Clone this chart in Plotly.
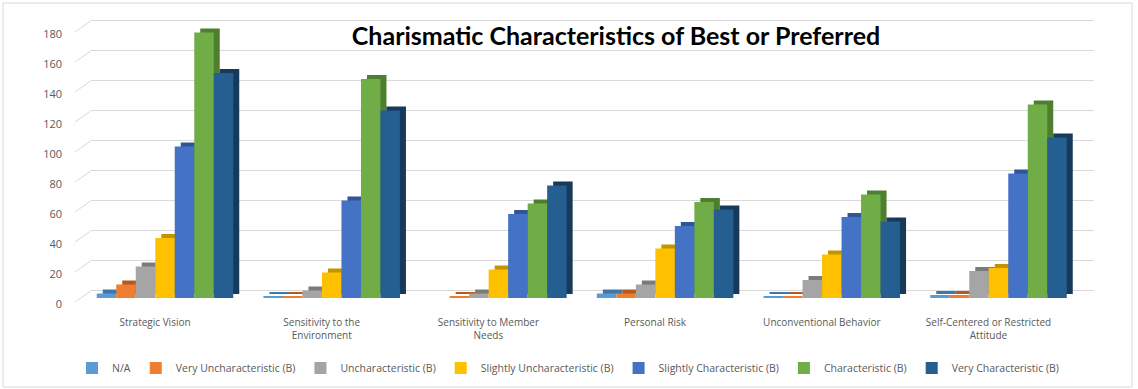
import plotly.graph_objects as go

categories = ["Strategic Vision", "Sensitivity to the<br>Environment", "Sensitivity to Member<br>Needs",
              "Personal Risk", "Unconventional Behavior", "Self-Centered or Restricted<br>Attitude"]
series_names = ["N/A", "Very Uncharacteristic (B)", "Uncharacteristic (B)", "Slightly Uncharacteristic (B)",
                "Slightly Characteristic (B)", "Characteristic (B)", "Very Characteristic (B)"]
na = [3, 1, 0, 3, 1, 2]
very_unchar = [9, 1, 1, 3, 1, 2]
unchar = [21, 5, 3, 9, 12, 18]
slightly_unchar = [40, 17, 19, 33, 29, 20]
slightly_char = [101, 65, 56, 48, 54, 83]
char = [177, 146, 63, 64, 69, 129]
very_char = [150, 125, 75, 59, 51, 107]
series_values = [na, very_unchar, unchar, slightly_unchar, slightly_char, char, very_char]
y_ticks = [0, 20, 40, 60, 80, 100, 120, 140, 160, 180]

front_colors = ["#5B9BD5", "#ED7D31", "#A5A5A5", "#FFC000", "#4472C4", "#70AD47", "#255E91"]
side_colors = ["#3F77AD", "#B45A1E", "#7B7B7B", "#C49400", "#2F5597", "#4E7F30", "#17395A"]

W, H = 1138, 389
ml, mr, mt, mb = 92, 44, 15, 91
plot_w = W - ml - mr
plot_h = H - mt - mb
px_per_unit = 1.5
yr_top = plot_h / px_per_unit
back_shift = 8 / px_per_unit

cat_px = 166.7
x_lo = -73 / cat_px
x_hi = x_lo + plot_w / cat_px

bw = 0.117
dx = 6 / cat_px
dy = 4 / px_per_unit
n = len(series_values)

fig = go.Figure()
# depth (side/top) faces
for i, vals in enumerate(series_values):
    off = -n * bw / 2 + i * bw
    fig.add_trace(go.Bar(x=categories, y=vals, base=dy, width=bw, offset=off + dx,
                         marker=dict(color=side_colors[i], line=dict(width=0)),
                         showlegend=False, hoverinfo="skip"))
# front faces
for i, vals in enumerate(series_values):
    off = -n * bw / 2 + i * bw
    fig.add_trace(go.Bar(x=categories, y=vals, width=bw, offset=off, name=series_names[i],
                         marker=dict(color=front_colors[i], line=dict(width=0))))

# invisible trace to activate the back-wall grid axis
fig.add_trace(go.Scatter(x=[categories[0]], y=[0], yaxis="y2", mode="markers",
                         marker=dict(opacity=0), showlegend=False, hoverinfo="skip"))

shapes = []
for v in y_ticks:
    yb = (v + back_shift) / yr_top
    yf = yb - 12 / plot_h
    shapes.append(dict(type="line", xref="paper", yref="paper", x0=-17 / plot_w, x1=0,
                       y0=yf, y1=yb, line=dict(color="#D9D9D9", width=1), layer="below"))
shapes.append(dict(type="rect", xref="paper", yref="paper",
                   x0=(3 - ml) / plot_w, x1=(W - 6 - ml) / plot_w,
                   y0=(H - mb - (H - 2)) / plot_h, y1=(H - mb - 3) / plot_h,
                   line=dict(color="#D9D9D9", width=1), layer="below"))

fig.update_layout(
    width=W, height=H,
    margin=dict(l=ml, r=mr, t=mt, b=mb, autoexpand=False),
    paper_bgcolor="white", plot_bgcolor="rgba(0,0,0,0)",
    barmode="overlay",
    font=dict(family="Open Sans", color="#595959", size=10),
    title=dict(text="<b>Charismatic Characteristics of Best or Preferred</b>",
               font=dict(family="Lato", size=25, color="black"),
               x=616 / W, xanchor="center", y=1 - 36 / H, yanchor="middle"),
    xaxis=dict(type="category", range=[x_lo, x_hi], showgrid=False, zeroline=False,
               showline=False, ticks="", ticklabelshift=-10, ticklabelstandoff=17,
               automargin=False,
               tickfont=dict(family="Open Sans", size=10, color="#595959")),
    yaxis=dict(range=[0, yr_top], showgrid=False, zeroline=False, showticklabels=True,
               tickvals=y_ticks, showline=False, ticklabelstandoff=29, ticklabelshift=6,
               automargin=False,
               tickfont=dict(family="Open Sans", size=11, color="#595959")),
    yaxis2=dict(range=[-back_shift, yr_top - back_shift], overlaying="y", showgrid=True,
                gridcolor="#D9D9D9", gridwidth=1, tickvals=y_ticks, showticklabels=False,
                zeroline=False, layer="below traces", automargin=False),
    legend=dict(orientation="h", x=(568 - ml) / plot_w, xanchor="center",
                y=-(368 - (H - mb)) / plot_h,
                yanchor="middle", font=dict(family="Open Sans", size=10.5, color="#595959"),
                itemwidth=30, traceorder="normal"),
    shapes=shapes,
)

fig.write_html("out.html")
